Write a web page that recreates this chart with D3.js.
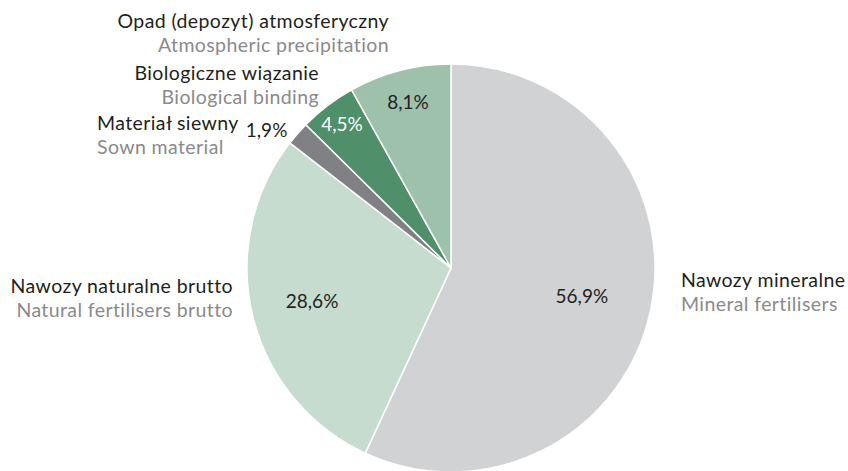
<!DOCTYPE html>
<html>
<head>
<meta charset="utf-8">
<script src="https://cdn.jsdelivr.net/npm/d3@7"></script>
<style>
  html, body { margin: 0; padding: 0; background: #ffffff; }
  svg { display: block; }
  text { font-family: Lato, "Open Sans", sans-serif; font-variant-ligatures: none; }
</style>
</head>
<body>
<svg id="chart" width="848" height="471"></svg>
<script>
// ---- data ----
const categoriesPL = ["Nawozy mineralne", "Nawozy naturalne brutto", "Materiał siewny", "Biologiczne wiązanie", "Opad (depozyt) atmosferyczny"];
const categoriesEN = ["Mineral fertilisers", "Natural fertilisers brutto", "Sown material", "Biological binding", "Atmospheric precipitation"];
const shares = [56.9, 28.6, 1.9, 4.5, 8.1];
const valueLabels = ["56,9%", "28,6%", "1,9%", "4,5%", "8,1%"];
const sliceColors = ["#d1d2d4", "#c6dccf", "#808184", "#4f8f6a", "#9dc1ab"];

// ---- layout ----
const cx = 451, cy = 268, R = 204;
const svg = d3.select("#chart");
const g = svg.append("g").attr("transform", `translate(${cx},${cy})`);

const pie = d3.pie().sort(null).value(d => d.v);
const data = shares.map((v, i) => ({ v, i }));
const arcs = pie(data);
const arc = d3.arc().innerRadius(0).outerRadius(R);

g.selectAll("path.slice").data(arcs).join("path")
  .attr("class", "slice")
  .attr("d", arc)
  .attr("fill", d => sliceColors[d.data.i])
  .attr("stroke", "#ffffff")
  .attr("stroke-width", 1.5)
  .attr("stroke-linejoin", "round");

// value labels (radius at which each percentage sits, relative to centre)
const valueRadius = [134, 143, 200, 180, 171];
const valueColor = ["#231f20", "#231f20", "#231f20", "#ffffff", "#231f20"];
const valueShift = [[0,0],[0,0],[-34,-5],[0,0],[0,0]];
g.selectAll("text.val").data(arcs).join("text")
  .attr("class", "val")
  .attr("text-anchor", "middle")
  .attr("font-size", 19)
  .attr("fill", d => valueColor[d.data.i])
  .attr("x", d => {
    const a = (d.startAngle + d.endAngle) / 2;
    return Math.sin(a) * valueRadius[d.data.i] + valueShift[d.data.i][0];
  })
  .attr("y", d => {
    const a = (d.startAngle + d.endAngle) / 2;
    return -Math.cos(a) * valueRadius[d.data.i] + valueShift[d.data.i][1] + 6;
  })
  .text(d => valueLabels[d.data.i]);

// category labels (absolute page positions)
const catPos = [
  { x: 681, y: 287, anchor: "start" },
  { x: 233, y: 293, anchor: "end" },
  { x: 97,  y: 130, anchor: "start" },
  { x: 319, y: 80,  anchor: "end" },
  { x: 389, y: 28,  anchor: "end" }
];
const lineGap = 24;
const lab = svg.selectAll("g.cat").data(categoriesPL).join("g").attr("class", "cat");
lab.append("text")
  .attr("x", (d, i) => catPos[i].x)
  .attr("y", (d, i) => catPos[i].y)
  .attr("text-anchor", (d, i) => catPos[i].anchor)
  .attr("font-size", 19.5)
  .attr("letter-spacing", 0.4)
  .attr("fill", "#231f20")
  .text(d => d);
lab.append("text")
  .attr("x", (d, i) => catPos[i].x)
  .attr("y", (d, i) => catPos[i].y + lineGap)
  .attr("text-anchor", (d, i) => catPos[i].anchor)
  .attr("font-size", 19.5)
  .attr("letter-spacing", 0.4)
  .attr("fill", "#8a8a8c")
  .text((d, i) => categoriesEN[i]);
</script>
</body>
</html>
